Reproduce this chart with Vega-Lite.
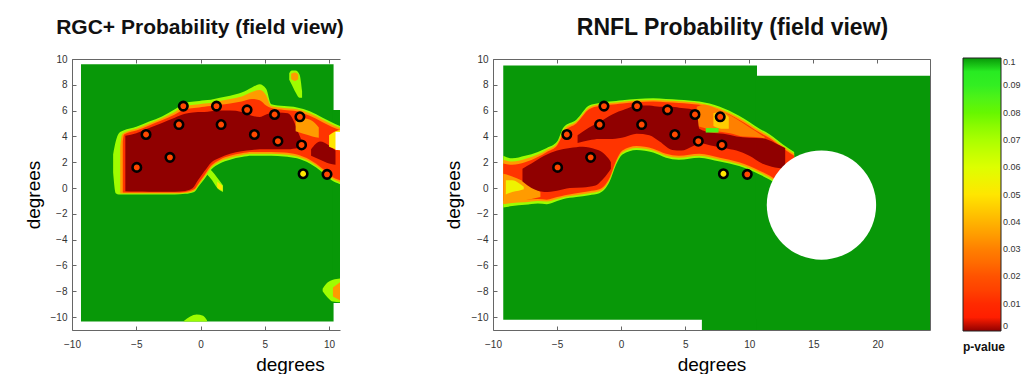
{
  "$schema": "https://vega.github.io/schema/vega-lite/v6.json",
  "background": "white",
  "padding": {"left": 24, "top": 17, "right": 0, "bottom": 0},
  "spacing": 100,
  "datasets": {
    "bg": [
      {"panel": "L", "x": -9.3, "x2": 10.35, "y": -10.35, "y2": 9.6, "p": 0.1},
      {"panel": "L", "x": 10.25, "x2": 10.85, "y": -8.9, "y2": 6.05, "p": 0.1},
      {"panel": "R", "x": -9.2, "x2": 10.6, "y": -10.2, "y2": 9.5, "p": 0.1},
      {"panel": "R", "x": 10.45, "x2": 24.1, "y": -11, "y2": 8.7, "p": 0.1},
      {"panel": "R", "x": 6.3, "x2": 10.6, "y": -11, "y2": -10.1, "p": 0.1}
    ],
    "mask": [
      {"panel": "L", "x": 10.5, "x2": 10.85, "y": 2.95, "y2": 4.35}
    ],
    "hole": [
      {"panel": "R", "x": 15.63, "y": -1.32}
    ],
    "pts": [
      {"x": -4.96, "y": 1.6, "p": 0.017},
      {"x": -4.24, "y": 4.15, "p": 0.017},
      {"x": -2.38, "y": 2.38, "p": 0.017},
      {"x": -1.68, "y": 4.92, "p": 0.017},
      {"x": -1.34, "y": 6.35, "p": 0.017},
      {"x": 1.24, "y": 6.35, "p": 0.017},
      {"x": 1.6, "y": 4.92, "p": 0.017},
      {"x": 3.62, "y": 6.06, "p": 0.017},
      {"x": 4.19, "y": 4.15, "p": 0.017},
      {"x": 5.76, "y": 5.7, "p": 0.017},
      {"x": 6.02, "y": 3.63, "p": 0.017},
      {"x": 7.73, "y": 5.52, "p": 0.017},
      {"x": 7.86, "y": 3.34, "p": 0.017},
      {"x": 7.98, "y": 1.11, "p": 0.05},
      {"x": 9.84, "y": 1.06, "p": 0.017}
    ],
    "blobs": [
      {"panel": "L", "lvl": "f", "s": "a", "p": 0.072, "x": -6.8, "y": 1.2, "y2": 2.6},
      {"panel": "L", "lvl": "f", "s": "a", "p": 0.072, "x": -6.6, "y": -0.4, "y2": 3.6},
      {"panel": "L", "lvl": "f", "s": "a", "p": 0.072, "x": -6.35, "y": -0.5, "y2": 4.25},
      {"panel": "L", "lvl": "f", "s": "a", "p": 0.072, "x": -6.0, "y": -0.5, "y2": 4.45},
      {"panel": "L", "lvl": "f", "s": "a", "p": 0.072, "x": -5.0, "y": -0.5, "y2": 4.75},
      {"panel": "L", "lvl": "f", "s": "a", "p": 0.072, "x": -4.0, "y": -0.5, "y2": 5.15},
      {"panel": "L", "lvl": "f", "s": "a", "p": 0.072, "x": -3.0, "y": -0.5, "y2": 5.55},
      {"panel": "L", "lvl": "f", "s": "a", "p": 0.072, "x": -2.0, "y": -0.5, "y2": 6.1},
      {"panel": "L", "lvl": "f", "s": "a", "p": 0.072, "x": -1.2, "y": -0.45, "y2": 6.6},
      {"panel": "L", "lvl": "f", "s": "a", "p": 0.072, "x": -0.5, "y": -0.3, "y2": 6.7},
      {"panel": "L", "lvl": "f", "s": "a", "p": 0.072, "x": -0.1, "y": 0.2, "y2": 6.75},
      {"panel": "L", "lvl": "f", "s": "a", "p": 0.072, "x": 0.3, "y": 0.7, "y2": 6.8},
      {"panel": "L", "lvl": "f", "s": "a", "p": 0.072, "x": 0.8, "y": 1.4, "y2": 6.85},
      {"panel": "L", "lvl": "f", "s": "a", "p": 0.072, "x": 1.5, "y": 1.9, "y2": 7.0},
      {"panel": "L", "lvl": "f", "s": "a", "p": 0.072, "x": 2.3, "y": 2.2, "y2": 7.15},
      {"panel": "L", "lvl": "f", "s": "a", "p": 0.072, "x": 3.2, "y": 2.4, "y2": 7.4},
      {"panel": "L", "lvl": "f", "s": "a", "p": 0.072, "x": 4.0, "y": 2.5, "y2": 7.8},
      {"panel": "L", "lvl": "f", "s": "a", "p": 0.072, "x": 4.6, "y": 2.5, "y2": 8.05},
      {"panel": "L", "lvl": "f", "s": "a", "p": 0.072, "x": 5.1, "y": 2.5, "y2": 7.7},
      {"panel": "L", "lvl": "f", "s": "a", "p": 0.072, "x": 5.5, "y": 2.5, "y2": 6.5},
      {"panel": "L", "lvl": "f", "s": "a", "p": 0.072, "x": 6.5, "y": 2.45, "y2": 6.35},
      {"panel": "L", "lvl": "f", "s": "a", "p": 0.072, "x": 7.5, "y": 2.3, "y2": 6.25},
      {"panel": "L", "lvl": "f", "s": "a", "p": 0.072, "x": 8.5, "y": 1.9, "y2": 5.95},
      {"panel": "L", "lvl": "f", "s": "a", "p": 0.072, "x": 9.5, "y": 1.2, "y2": 5.45},
      {"panel": "L", "lvl": "f", "s": "a", "p": 0.072, "x": 10.2, "y": 0.6, "y2": 5.1},
      {"panel": "L", "lvl": "f", "s": "a", "p": 0.072, "x": 10.85, "y": 0.3, "y2": 4.8},
      {"panel": "L", "lvl": "f", "s": "c", "p": 0.072, "x": 0.45, "y": 1.1, "y2": 1.7},
      {"panel": "L", "lvl": "f", "s": "c", "p": 0.072, "x": 0.9, "y": 0.6, "y2": 1.3},
      {"panel": "L", "lvl": "f", "s": "c", "p": 0.072, "x": 1.3, "y": 0.0, "y2": 0.8},
      {"panel": "L", "lvl": "f", "s": "c", "p": 0.072, "x": 1.75, "y": -0.3, "y2": 0.2},
      {"panel": "L", "lvl": "f", "s": "d", "p": 0.072, "x": 6.9, "y": 8.4, "y2": 8.9},
      {"panel": "L", "lvl": "f", "s": "d", "p": 0.072, "x": 7.1, "y": 8.0, "y2": 9.1},
      {"panel": "L", "lvl": "f", "s": "d", "p": 0.072, "x": 7.4, "y": 7.4, "y2": 9.1},
      {"panel": "L", "lvl": "f", "s": "d", "p": 0.072, "x": 7.7, "y": 7.0, "y2": 8.8},
      {"panel": "L", "lvl": "f", "s": "d", "p": 0.072, "x": 7.9, "y": 7.0, "y2": 7.5},
      {"panel": "L", "lvl": "f", "s": "e", "p": 0.072, "x": 9.5, "y": -8.0, "y2": -7.8},
      {"panel": "L", "lvl": "f", "s": "e", "p": 0.072, "x": 9.9, "y": -8.5, "y2": -7.3},
      {"panel": "L", "lvl": "f", "s": "e", "p": 0.072, "x": 10.3, "y": -8.8, "y2": -7.1},
      {"panel": "L", "lvl": "f", "s": "e", "p": 0.072, "x": 10.85, "y": -8.85, "y2": -7.0},
      {"panel": "L", "lvl": "f", "s": "g", "p": 0.072, "x": -1.3, "y": -10.35, "y2": -10.3},
      {"panel": "L", "lvl": "f", "s": "g", "p": 0.072, "x": -0.3, "y": -10.35, "y2": -9.8},
      {"panel": "L", "lvl": "f", "s": "g", "p": 0.072, "x": 0.2, "y": -10.35, "y2": -9.9},
      {"panel": "L", "lvl": "f", "s": "g", "p": 0.072, "x": 0.5, "y": -10.35, "y2": -10.25},

      {"panel": "L", "lvl": "o", "s": "a", "p": 0.035, "x": -6.25, "y": -0.4, "y2": 3.2},
      {"panel": "L", "lvl": "o", "s": "a", "p": 0.035, "x": -6.1, "y": -0.42, "y2": 4.15},
      {"panel": "L", "lvl": "o", "s": "a", "p": 0.035, "x": -5.9, "y": -0.42, "y2": 4.3},
      {"panel": "L", "lvl": "o", "s": "a", "p": 0.035, "x": -5.0, "y": -0.42, "y2": 4.6},
      {"panel": "L", "lvl": "o", "s": "a", "p": 0.035, "x": -4.0, "y": -0.42, "y2": 5.0},
      {"panel": "L", "lvl": "o", "s": "a", "p": 0.035, "x": -3.0, "y": -0.42, "y2": 5.4},
      {"panel": "L", "lvl": "o", "s": "a", "p": 0.035, "x": -2.0, "y": -0.42, "y2": 5.9},
      {"panel": "L", "lvl": "o", "s": "a", "p": 0.035, "x": -1.2, "y": -0.38, "y2": 6.35},
      {"panel": "L", "lvl": "o", "s": "a", "p": 0.035, "x": -0.5, "y": -0.2, "y2": 6.45},
      {"panel": "L", "lvl": "o", "s": "a", "p": 0.035, "x": -0.1, "y": 0.3, "y2": 6.5},
      {"panel": "L", "lvl": "o", "s": "a", "p": 0.035, "x": 0.3, "y": 0.85, "y2": 6.55},
      {"panel": "L", "lvl": "o", "s": "a", "p": 0.035, "x": 0.8, "y": 1.55, "y2": 6.6},
      {"panel": "L", "lvl": "o", "s": "a", "p": 0.035, "x": 1.5, "y": 2.05, "y2": 6.75},
      {"panel": "L", "lvl": "o", "s": "a", "p": 0.035, "x": 2.3, "y": 2.35, "y2": 6.9},
      {"panel": "L", "lvl": "o", "s": "a", "p": 0.035, "x": 3.2, "y": 2.55, "y2": 7.1},
      {"panel": "L", "lvl": "o", "s": "a", "p": 0.035, "x": 4.0, "y": 2.65, "y2": 7.45},
      {"panel": "L", "lvl": "o", "s": "a", "p": 0.035, "x": 4.6, "y": 2.65, "y2": 7.6},
      {"panel": "L", "lvl": "o", "s": "a", "p": 0.035, "x": 5.1, "y": 2.65, "y2": 7.2},
      {"panel": "L", "lvl": "o", "s": "a", "p": 0.035, "x": 5.5, "y": 2.65, "y2": 6.35},
      {"panel": "L", "lvl": "o", "s": "a", "p": 0.035, "x": 6.5, "y": 2.6, "y2": 6.2},
      {"panel": "L", "lvl": "o", "s": "a", "p": 0.035, "x": 7.5, "y": 2.45, "y2": 6.1},
      {"panel": "L", "lvl": "o", "s": "a", "p": 0.035, "x": 8.5, "y": 2.05, "y2": 5.8},
      {"panel": "L", "lvl": "o", "s": "a", "p": 0.035, "x": 9.5, "y": 1.35, "y2": 5.3},
      {"panel": "L", "lvl": "o", "s": "a", "p": 0.035, "x": 10.2, "y": 0.75, "y2": 4.95},
      {"panel": "L", "lvl": "o", "s": "a", "p": 0.035, "x": 10.85, "y": 0.45, "y2": 4.65},
      {"panel": "L", "lvl": "o", "s": "d", "p": 0.035, "x": 7.05, "y": 8.45, "y2": 8.85},
      {"panel": "L", "lvl": "o", "s": "d", "p": 0.035, "x": 7.35, "y": 8.3, "y2": 8.95},
      {"panel": "L", "lvl": "o", "s": "d", "p": 0.035, "x": 7.6, "y": 8.45, "y2": 8.8},
      {"panel": "L", "lvl": "o", "s": "e", "p": 0.035, "x": 10.3, "y": -8.4, "y2": -7.7},
      {"panel": "L", "lvl": "o", "s": "e", "p": 0.035, "x": 10.85, "y": -8.7, "y2": -7.3},

      {"panel": "L", "lvl": "r", "s": "a", "p": 0.012, "x": -6.05, "y": -0.33, "y2": 3.6},
      {"panel": "L", "lvl": "r", "s": "a", "p": 0.012, "x": -5.95, "y": -0.35, "y2": 4.15},
      {"panel": "L", "lvl": "r", "s": "a", "p": 0.012, "x": -5.0, "y": -0.35, "y2": 4.45},
      {"panel": "L", "lvl": "r", "s": "a", "p": 0.012, "x": -4.0, "y": -0.35, "y2": 4.85},
      {"panel": "L", "lvl": "r", "s": "a", "p": 0.012, "x": -3.0, "y": -0.35, "y2": 5.25},
      {"panel": "L", "lvl": "r", "s": "a", "p": 0.012, "x": -2.0, "y": -0.35, "y2": 5.7},
      {"panel": "L", "lvl": "r", "s": "a", "p": 0.012, "x": -1.2, "y": -0.3, "y2": 6.1},
      {"panel": "L", "lvl": "r", "s": "a", "p": 0.012, "x": -0.5, "y": -0.1, "y2": 6.2},
      {"panel": "L", "lvl": "r", "s": "a", "p": 0.012, "x": -0.1, "y": 0.45, "y2": 6.25},
      {"panel": "L", "lvl": "r", "s": "a", "p": 0.012, "x": 0.3, "y": 1.0, "y2": 6.3},
      {"panel": "L", "lvl": "r", "s": "a", "p": 0.012, "x": 0.8, "y": 1.7, "y2": 6.35},
      {"panel": "L", "lvl": "r", "s": "a", "p": 0.012, "x": 1.5, "y": 2.2, "y2": 6.45},
      {"panel": "L", "lvl": "r", "s": "a", "p": 0.012, "x": 2.3, "y": 2.5, "y2": 6.55},
      {"panel": "L", "lvl": "r", "s": "a", "p": 0.012, "x": 3.2, "y": 2.7, "y2": 6.7},
      {"panel": "L", "lvl": "r", "s": "a", "p": 0.012, "x": 4.0, "y": 2.8, "y2": 6.9},
      {"panel": "L", "lvl": "r", "s": "a", "p": 0.012, "x": 4.6, "y": 2.8, "y2": 6.8},
      {"panel": "L", "lvl": "r", "s": "a", "p": 0.012, "x": 5.1, "y": 2.8, "y2": 6.4},
      {"panel": "L", "lvl": "r", "s": "a", "p": 0.012, "x": 5.5, "y": 2.8, "y2": 6.2},
      {"panel": "L", "lvl": "r", "s": "a", "p": 0.012, "x": 6.5, "y": 2.75, "y2": 6.05},
      {"panel": "L", "lvl": "r", "s": "a", "p": 0.012, "x": 7.5, "y": 2.6, "y2": 5.95},
      {"panel": "L", "lvl": "r", "s": "a", "p": 0.012, "x": 8.5, "y": 2.2, "y2": 5.6},
      {"panel": "L", "lvl": "r", "s": "a", "p": 0.012, "x": 9.5, "y": 1.5, "y2": 5.1},
      {"panel": "L", "lvl": "r", "s": "a", "p": 0.012, "x": 10.2, "y": 0.9, "y2": 4.75},
      {"panel": "L", "lvl": "r", "s": "a", "p": 0.012, "x": 10.85, "y": 0.6, "y2": 4.5},

      {"panel": "L", "lvl": "d", "s": "a", "p": 0, "x": -5.85, "y": -0.25, "y2": 4.05},
      {"panel": "L", "lvl": "d", "s": "a", "p": 0, "x": -5.0, "y": -0.27, "y2": 4.25},
      {"panel": "L", "lvl": "d", "s": "a", "p": 0, "x": -4.0, "y": -0.28, "y2": 4.65},
      {"panel": "L", "lvl": "d", "s": "a", "p": 0, "x": -3.0, "y": -0.28, "y2": 5.05},
      {"panel": "L", "lvl": "d", "s": "a", "p": 0, "x": -2.0, "y": -0.28, "y2": 5.45},
      {"panel": "L", "lvl": "d", "s": "a", "p": 0, "x": -1.2, "y": -0.22, "y2": 5.75},
      {"panel": "L", "lvl": "d", "s": "a", "p": 0, "x": -0.6, "y": 0.0, "y2": 5.85},
      {"panel": "L", "lvl": "d", "s": "a", "p": 0, "x": -0.2, "y": 0.6, "y2": 5.9},
      {"panel": "L", "lvl": "d", "s": "a", "p": 0, "x": 0.3, "y": 1.3, "y2": 5.9},
      {"panel": "L", "lvl": "d", "s": "a", "p": 0, "x": 0.8, "y": 1.95, "y2": 5.95},
      {"panel": "L", "lvl": "d", "s": "a", "p": 0, "x": 1.5, "y": 2.35, "y2": 6.0},
      {"panel": "L", "lvl": "d", "s": "a", "p": 0, "x": 2.3, "y": 2.65, "y2": 6.0},
      {"panel": "L", "lvl": "d", "s": "a", "p": 0, "x": 3.2, "y": 2.85, "y2": 5.9},
      {"panel": "L", "lvl": "d", "s": "a", "p": 0, "x": 4.0, "y": 2.95, "y2": 5.6},
      {"panel": "L", "lvl": "d", "s": "a", "p": 0, "x": 4.6, "y": 3.0, "y2": 5.5},
      {"panel": "L", "lvl": "d", "s": "a", "p": 0, "x": 5.1, "y": 3.0, "y2": 5.7},
      {"panel": "L", "lvl": "d", "s": "a", "p": 0, "x": 6.0, "y": 3.0, "y2": 5.85},
      {"panel": "L", "lvl": "d", "s": "a", "p": 0, "x": 6.8, "y": 3.0, "y2": 5.8},
      {"panel": "L", "lvl": "d", "s": "a", "p": 0, "x": 7.2, "y": 3.05, "y2": 5.3},
      {"panel": "L", "lvl": "d", "s": "a", "p": 0, "x": 7.6, "y": 3.1, "y2": 4.3},
      {"panel": "L", "lvl": "d", "s": "a", "p": 0, "x": 7.9, "y": 3.2, "y2": 3.6},
      {"panel": "L", "lvl": "d", "s": "b", "p": 0, "x": 8.6, "y": 2.5, "y2": 3.0},
      {"panel": "L", "lvl": "d", "s": "b", "p": 0, "x": 9.3, "y": 2.2, "y2": 3.6},
      {"panel": "L", "lvl": "d", "s": "b", "p": 0, "x": 10.0, "y": 1.9, "y2": 3.3},
      {"panel": "L", "lvl": "d", "s": "b", "p": 0, "x": 10.5, "y": 1.8, "y2": 2.9},

      {"panel": "L", "lvl": "q", "s": "h", "p": 0.035, "x": 7.4, "y": 4.4, "y2": 5.3},
      {"panel": "L", "lvl": "q", "s": "h", "p": 0.035, "x": 8.0, "y": 4.2, "y2": 5.4},
      {"panel": "L", "lvl": "q", "s": "h", "p": 0.035, "x": 8.7, "y": 4.0, "y2": 5.2},
      {"panel": "L", "lvl": "q", "s": "h", "p": 0.035, "x": 9.2, "y": 3.9, "y2": 4.7},
      {"panel": "L", "lvl": "q", "s": "i", "p": 0.05, "x": 10.0, "y": 3.2, "y2": 4.1},
      {"panel": "L", "lvl": "q", "s": "i", "p": 0.05, "x": 10.5, "y": 3.0, "y2": 4.4},
      {"panel": "L", "lvl": "q", "s": "i", "p": 0.05, "x": 10.85, "y": 2.9, "y2": 4.5},
      {"panel": "L", "lvl": "q", "s": "j", "p": 0.05, "x": 1.3, "y": 0.0, "y2": 0.5},
      {"panel": "L", "lvl": "q", "s": "j", "p": 0.05, "x": 1.7, "y": -0.2, "y2": 0.15},

      {"panel": "R", "lvl": "f", "s": "a", "p": 0.072, "x": -9.2, "y": -1.5, "y2": 2.5},
      {"panel": "R", "lvl": "f", "s": "a", "p": 0.072, "x": -8.5, "y": -1.4, "y2": 2.3},
      {"panel": "R", "lvl": "f", "s": "a", "p": 0.072, "x": -7.5, "y": -1.3, "y2": 2.5},
      {"panel": "R", "lvl": "f", "s": "a", "p": 0.072, "x": -6.5, "y": -1.2, "y2": 2.8},
      {"panel": "R", "lvl": "f", "s": "a", "p": 0.072, "x": -5.8, "y": -1.25, "y2": 3.1},
      {"panel": "R", "lvl": "f", "s": "a", "p": 0.072, "x": -5.0, "y": -1.0, "y2": 3.6},
      {"panel": "R", "lvl": "f", "s": "a", "p": 0.072, "x": -4.5, "y": -0.85, "y2": 4.7},
      {"panel": "R", "lvl": "f", "s": "a", "p": 0.072, "x": -3.5, "y": -0.7, "y2": 5.3},
      {"panel": "R", "lvl": "f", "s": "a", "p": 0.072, "x": -2.5, "y": -0.55, "y2": 6.4},
      {"panel": "R", "lvl": "f", "s": "a", "p": 0.072, "x": -1.7, "y": -0.4, "y2": 6.6},
      {"panel": "R", "lvl": "f", "s": "a", "p": 0.072, "x": -0.9, "y": 0.5, "y2": 6.7},
      {"panel": "R", "lvl": "f", "s": "a", "p": 0.072, "x": -0.4, "y": 1.8, "y2": 6.75},
      {"panel": "R", "lvl": "f", "s": "a", "p": 0.072, "x": 0.1, "y": 2.6, "y2": 6.8},
      {"panel": "R", "lvl": "f", "s": "a", "p": 0.072, "x": 1.2, "y": 2.95, "y2": 6.9},
      {"panel": "R", "lvl": "f", "s": "a", "p": 0.072, "x": 2.5, "y": 2.75, "y2": 6.95},
      {"panel": "R", "lvl": "f", "s": "a", "p": 0.072, "x": 3.5, "y": 2.35, "y2": 6.9},
      {"panel": "R", "lvl": "f", "s": "a", "p": 0.072, "x": 4.5, "y": 2.2, "y2": 6.85},
      {"panel": "R", "lvl": "f", "s": "a", "p": 0.072, "x": 6.1, "y": 2.35, "y2": 6.7},
      {"panel": "R", "lvl": "f", "s": "a", "p": 0.072, "x": 7.7, "y": 2.05, "y2": 6.3},
      {"panel": "R", "lvl": "f", "s": "a", "p": 0.072, "x": 9.2, "y": 1.7, "y2": 5.6},
      {"panel": "R", "lvl": "f", "s": "a", "p": 0.072, "x": 10.8, "y": 1.05, "y2": 4.6},
      {"panel": "R", "lvl": "f", "s": "a", "p": 0.072, "x": 11.6, "y": 0.65, "y2": 4.15},
      {"panel": "R", "lvl": "f", "s": "a", "p": 0.072, "x": 12.6, "y": 0.0, "y2": 3.4},
      {"panel": "R", "lvl": "f", "s": "a", "p": 0.072, "x": 13.5, "y": -0.5, "y2": 2.8},

      {"panel": "R", "lvl": "o", "s": "a", "p": 0.035, "x": -9.2, "y": -1.25, "y2": 2.2},
      {"panel": "R", "lvl": "o", "s": "a", "p": 0.035, "x": -8.5, "y": -1.15, "y2": 2.05},
      {"panel": "R", "lvl": "o", "s": "a", "p": 0.035, "x": -7.5, "y": -1.1, "y2": 2.25},
      {"panel": "R", "lvl": "o", "s": "a", "p": 0.035, "x": -6.5, "y": -1.0, "y2": 2.6},
      {"panel": "R", "lvl": "o", "s": "a", "p": 0.035, "x": -5.8, "y": -1.05, "y2": 2.95},
      {"panel": "R", "lvl": "o", "s": "a", "p": 0.035, "x": -5.0, "y": -0.85, "y2": 3.45},
      {"panel": "R", "lvl": "o", "s": "a", "p": 0.035, "x": -4.45, "y": -0.7, "y2": 4.55},
      {"panel": "R", "lvl": "o", "s": "a", "p": 0.035, "x": -3.5, "y": -0.55, "y2": 5.15},
      {"panel": "R", "lvl": "o", "s": "a", "p": 0.035, "x": -2.5, "y": -0.4, "y2": 6.25},
      {"panel": "R", "lvl": "o", "s": "a", "p": 0.035, "x": -1.7, "y": -0.25, "y2": 6.5},
      {"panel": "R", "lvl": "o", "s": "a", "p": 0.035, "x": -0.9, "y": 0.65, "y2": 6.6},
      {"panel": "R", "lvl": "o", "s": "a", "p": 0.035, "x": -0.4, "y": 1.95, "y2": 6.62},
      {"panel": "R", "lvl": "o", "s": "a", "p": 0.035, "x": 0.1, "y": 2.75, "y2": 6.68},
      {"panel": "R", "lvl": "o", "s": "a", "p": 0.035, "x": 1.2, "y": 3.1, "y2": 6.78},
      {"panel": "R", "lvl": "o", "s": "a", "p": 0.035, "x": 2.5, "y": 2.9, "y2": 6.82},
      {"panel": "R", "lvl": "o", "s": "a", "p": 0.035, "x": 3.5, "y": 2.5, "y2": 6.78},
      {"panel": "R", "lvl": "o", "s": "a", "p": 0.035, "x": 4.5, "y": 2.35, "y2": 6.72},
      {"panel": "R", "lvl": "o", "s": "a", "p": 0.035, "x": 6.1, "y": 2.5, "y2": 6.58},
      {"panel": "R", "lvl": "o", "s": "a", "p": 0.035, "x": 7.7, "y": 2.2, "y2": 6.15},
      {"panel": "R", "lvl": "o", "s": "a", "p": 0.035, "x": 9.2, "y": 1.85, "y2": 5.45},
      {"panel": "R", "lvl": "o", "s": "a", "p": 0.035, "x": 10.8, "y": 1.2, "y2": 4.45},
      {"panel": "R", "lvl": "o", "s": "a", "p": 0.035, "x": 11.6, "y": 0.8, "y2": 4.0},
      {"panel": "R", "lvl": "o", "s": "a", "p": 0.035, "x": 12.6, "y": 0.15, "y2": 3.25},
      {"panel": "R", "lvl": "o", "s": "a", "p": 0.035, "x": 13.5, "y": -0.4, "y2": 2.65},

      {"panel": "R", "lvl": "r", "s": "a", "p": 0.012, "x": -9.2, "y": -1.0, "y2": 1.9},
      {"panel": "R", "lvl": "r", "s": "a", "p": 0.012, "x": -8.5, "y": -0.9, "y2": 1.8},
      {"panel": "R", "lvl": "r", "s": "a", "p": 0.012, "x": -7.5, "y": -0.9, "y2": 2.0},
      {"panel": "R", "lvl": "r", "s": "a", "p": 0.012, "x": -6.5, "y": -0.85, "y2": 2.4},
      {"panel": "R", "lvl": "r", "s": "a", "p": 0.012, "x": -5.8, "y": -0.9, "y2": 2.8},
      {"panel": "R", "lvl": "r", "s": "a", "p": 0.012, "x": -5.0, "y": -0.7, "y2": 3.3},
      {"panel": "R", "lvl": "r", "s": "a", "p": 0.012, "x": -4.4, "y": -0.55, "y2": 4.4},
      {"panel": "R", "lvl": "r", "s": "a", "p": 0.012, "x": -3.5, "y": -0.4, "y2": 5.0},
      {"panel": "R", "lvl": "r", "s": "a", "p": 0.012, "x": -2.5, "y": -0.25, "y2": 6.1},
      {"panel": "R", "lvl": "r", "s": "a", "p": 0.012, "x": -1.7, "y": -0.1, "y2": 6.35},
      {"panel": "R", "lvl": "r", "s": "a", "p": 0.012, "x": -0.9, "y": 0.8, "y2": 6.45},
      {"panel": "R", "lvl": "r", "s": "a", "p": 0.012, "x": -0.4, "y": 2.1, "y2": 6.5},
      {"panel": "R", "lvl": "r", "s": "a", "p": 0.012, "x": 0.1, "y": 2.9, "y2": 6.55},
      {"panel": "R", "lvl": "r", "s": "a", "p": 0.012, "x": 1.2, "y": 3.25, "y2": 6.65},
      {"panel": "R", "lvl": "r", "s": "a", "p": 0.012, "x": 2.5, "y": 3.05, "y2": 6.7},
      {"panel": "R", "lvl": "r", "s": "a", "p": 0.012, "x": 3.5, "y": 2.65, "y2": 6.65},
      {"panel": "R", "lvl": "r", "s": "a", "p": 0.012, "x": 4.5, "y": 2.5, "y2": 6.6},
      {"panel": "R", "lvl": "r", "s": "a", "p": 0.012, "x": 6.1, "y": 2.65, "y2": 6.45},
      {"panel": "R", "lvl": "r", "s": "a", "p": 0.012, "x": 7.7, "y": 2.35, "y2": 6.0},
      {"panel": "R", "lvl": "r", "s": "a", "p": 0.012, "x": 9.2, "y": 2.0, "y2": 5.3},
      {"panel": "R", "lvl": "r", "s": "a", "p": 0.012, "x": 10.8, "y": 1.35, "y2": 4.3},
      {"panel": "R", "lvl": "r", "s": "a", "p": 0.012, "x": 11.6, "y": 0.95, "y2": 3.85},
      {"panel": "R", "lvl": "r", "s": "a", "p": 0.012, "x": 12.6, "y": 0.3, "y2": 3.1},
      {"panel": "R", "lvl": "r", "s": "a", "p": 0.012, "x": 13.5, "y": -0.3, "y2": 2.5},

      {"panel": "R", "lvl": "d", "s": "a", "p": 0, "x": -7.7, "y": 0.5, "y2": 1.5},
      {"panel": "R", "lvl": "d", "s": "a", "p": 0, "x": -7.0, "y": 0.0, "y2": 1.9},
      {"panel": "R", "lvl": "d", "s": "a", "p": 0, "x": -6.0, "y": -0.3, "y2": 2.5},
      {"panel": "R", "lvl": "d", "s": "a", "p": 0, "x": -5.0, "y": -0.2, "y2": 2.9},
      {"panel": "R", "lvl": "d", "s": "a", "p": 0, "x": -4.0, "y": 0.0, "y2": 3.1},
      {"panel": "R", "lvl": "d", "s": "a", "p": 0, "x": -3.0, "y": 0.05, "y2": 3.2},
      {"panel": "R", "lvl": "d", "s": "a", "p": 0, "x": -2.0, "y": 0.2, "y2": 3.0},
      {"panel": "R", "lvl": "d", "s": "a", "p": 0, "x": -1.5, "y": 0.6, "y2": 2.8},
      {"panel": "R", "lvl": "d", "s": "a", "p": 0, "x": -1.0, "y": 1.2, "y2": 2.3},
      {"panel": "R", "lvl": "d", "s": "a", "p": 0, "x": -0.8, "y": 1.5, "y2": 2.0},
      {"panel": "R", "lvl": "d", "s": "b", "p": 0, "x": -3.4, "y": 3.5, "y2": 4.1},
      {"panel": "R", "lvl": "d", "s": "b", "p": 0, "x": -2.5, "y": 3.7, "y2": 4.7},
      {"panel": "R", "lvl": "d", "s": "b", "p": 0, "x": -1.7, "y": 3.8, "y2": 5.1},
      {"panel": "R", "lvl": "d", "s": "b", "p": 0, "x": -0.7, "y": 3.8, "y2": 5.7},
      {"panel": "R", "lvl": "d", "s": "b", "p": 0, "x": 0.3, "y": 3.95, "y2": 6.1},
      {"panel": "R", "lvl": "d", "s": "b", "p": 0, "x": 1.2, "y": 4.2, "y2": 6.4},
      {"panel": "R", "lvl": "d", "s": "b", "p": 0, "x": 2.2, "y": 4.1, "y2": 6.4},
      {"panel": "R", "lvl": "d", "s": "b", "p": 0, "x": 3.0, "y": 3.6, "y2": 6.3},
      {"panel": "R", "lvl": "d", "s": "b", "p": 0, "x": 4.0, "y": 2.95, "y2": 6.3},
      {"panel": "R", "lvl": "d", "s": "b", "p": 0, "x": 4.7, "y": 2.9, "y2": 6.2},
      {"panel": "R", "lvl": "d", "s": "b", "p": 0, "x": 5.5, "y": 3.2, "y2": 6.1},
      {"panel": "R", "lvl": "d", "s": "b", "p": 0, "x": 5.9, "y": 3.4, "y2": 5.9},
      {"panel": "R", "lvl": "d", "s": "b", "p": 0, "x": 6.1, "y": 3.5, "y2": 4.6},
      {"panel": "R", "lvl": "d", "s": "b", "p": 0, "x": 7.0, "y": 3.3, "y2": 4.3},
      {"panel": "R", "lvl": "d", "s": "b", "p": 0, "x": 8.0, "y": 3.1, "y2": 4.2},
      {"panel": "R", "lvl": "d", "s": "b", "p": 0, "x": 9.0, "y": 2.9, "y2": 4.0},
      {"panel": "R", "lvl": "d", "s": "b", "p": 0, "x": 10.0, "y": 2.5, "y2": 3.9},
      {"panel": "R", "lvl": "d", "s": "b", "p": 0, "x": 11.0, "y": 1.9, "y2": 3.85},
      {"panel": "R", "lvl": "d", "s": "b", "p": 0, "x": 12.0, "y": 1.6, "y2": 3.5},
      {"panel": "R", "lvl": "d", "s": "b", "p": 0, "x": 12.8, "y": 1.5, "y2": 3.1},

      {"panel": "R", "lvl": "q", "s": "c", "p": 0.035, "x": -9.2, "y": -1.2, "y2": 1.1},
      {"panel": "R", "lvl": "q", "s": "c", "p": 0.035, "x": -8.5, "y": -1.1, "y2": 0.9},
      {"panel": "R", "lvl": "q", "s": "c", "p": 0.035, "x": -7.8, "y": -1.0, "y2": 0.6},
      {"panel": "R", "lvl": "q", "s": "c", "p": 0.035, "x": -7.0, "y": -0.85, "y2": 0.1},
      {"panel": "R", "lvl": "q", "s": "c", "p": 0.035, "x": -6.3, "y": -0.7, "y2": -0.3},
      {"panel": "R", "lvl": "q", "s": "e", "p": 0.03, "x": 5.9, "y": 4.8, "y2": 6.3},
      {"panel": "R", "lvl": "q", "s": "e", "p": 0.03, "x": 6.5, "y": 4.65, "y2": 6.45},
      {"panel": "R", "lvl": "q", "s": "e", "p": 0.03, "x": 7.5, "y": 4.4, "y2": 6.1},
      {"panel": "R", "lvl": "q", "s": "e", "p": 0.03, "x": 8.5, "y": 4.25, "y2": 5.65},
      {"panel": "R", "lvl": "q", "s": "e", "p": 0.03, "x": 9.5, "y": 4.0, "y2": 5.05},
      {"panel": "R", "lvl": "q", "s": "e", "p": 0.03, "x": 10.5, "y": 3.95, "y2": 4.4},
      {"panel": "R", "lvl": "q", "s": "e", "p": 0.03, "x": 11.2, "y": 3.85, "y2": 3.95},
      {"panel": "R", "lvl": "q2", "s": "c2", "p": 0.055, "x": -9.0, "y": -0.5, "y2": 0.6},
      {"panel": "R", "lvl": "q2", "s": "c2", "p": 0.055, "x": -8.5, "y": -0.3, "y2": 0.6},
      {"panel": "R", "lvl": "q2", "s": "c2", "p": 0.055, "x": -8.0, "y": -0.2, "y2": 0.4},
      {"panel": "R", "lvl": "q2", "s": "c2", "p": 0.055, "x": -7.6, "y": -0.1, "y2": 0.1},
      {"panel": "R", "lvl": "q2", "s": "f", "p": 0.045, "x": 7.2, "y": 4.8, "y2": 5.8},
      {"panel": "R", "lvl": "q2", "s": "f", "p": 0.045, "x": 7.8, "y": 4.6, "y2": 5.9},
      {"panel": "R", "lvl": "q2", "s": "f", "p": 0.045, "x": 8.4, "y": 4.6, "y2": 5.5},
      {"panel": "R", "lvl": "q2", "s": "g", "p": 0.085, "x": 6.6, "y": 4.3, "y2": 4.65},
      {"panel": "R", "lvl": "q2", "s": "g", "p": 0.085, "x": 7.6, "y": 4.3, "y2": 4.65}
    ]
  },
  "hconcat": [
    {
      "width": 268,
      "height": 271,
      "title": {"text": "RGC+ Probability (field view)", "font": "Liberation Sans", "fontSize": 21, "fontWeight": "bold", "color": "#111", "anchor": "middle", "frame": "group", "dx": -6, "offset": 16},
      "resolve": {"axis": {"x": "independent", "y": "independent"}},
      "layer": [
        {
          "encoding": {
            "x": {"field": "x", "type": "quantitative", "scale": {"domain": [-10, 10.85], "nice": false, "zero": false}, "axis": {"title": "degrees", "values": [-10, -5, 0, 5, 10], "titleX": 218, "labelPadding": 13, "titlePadding": 6}},
            "y": {"field": "y", "type": "quantitative", "scale": {"domain": [-11, 10], "nice": false, "zero": false}, "axis": {"title": "degrees", "values": [-10, -8, -6, -4, -2, 0, 2, 4, 6, 8, 10], "labelPadding": 9, "titlePadding": 7}}
          },
          "layer": [
            {"data": {"name": "bg"}, "transform": [{"filter": "datum.panel == 'L'"}], "mark": {"type": "rect", "clip": true},
             "encoding": {"x2": {"field": "x2"}, "y2": {"field": "y2"},
               "color": {"field": "p", "type": "quantitative", "title": "p-value", "legend": {"values": [0, 0.01, 0.02, 0.03, 0.04, 0.05, 0.06, 0.07, 0.08, 0.09, 0.1], "format": "~g"}, "scale": {"domain": [0, 0.0018, 0.002, 0.01, 0.02, 0.03, 0.04, 0.05, 0.06, 0.07, 0.08, 0.09, 0.0975, 0.098, 0.1], "range": ["#900000", "#900000", "#ff1400", "#ff2a00", "#ff5200", "#ff8000", "#ffb400", "#ffe600", "#ddff00", "#aaff00", "#66f700", "#33ee22", "#22ea22", "#089808", "#089808"]}}}},
            {"data": {"name": "blobs"}, "transform": [{"filter": "datum.panel == 'L' && datum.lvl == 'f'"}], "mark": {"type": "area", "clip": true, "interpolate": "monotone"},
             "encoding": {"y2": {"field": "y2"}, "detail": {"field": "s"}, "color": {"field": "p", "type": "quantitative", "title": "p-value"}}},
            {"data": {"name": "blobs"}, "transform": [{"filter": "datum.panel == 'L' && datum.lvl == 'o'"}], "mark": {"type": "area", "clip": true, "interpolate": "monotone"},
             "encoding": {"y2": {"field": "y2"}, "detail": {"field": "s"}, "color": {"field": "p", "type": "quantitative", "title": "p-value"}}},
            {"data": {"name": "blobs"}, "transform": [{"filter": "datum.panel == 'L' && datum.lvl == 'r'"}], "mark": {"type": "area", "clip": true, "interpolate": "monotone"},
             "encoding": {"y2": {"field": "y2"}, "detail": {"field": "s"}, "color": {"field": "p", "type": "quantitative", "title": "p-value"}}},
            {"data": {"name": "blobs"}, "transform": [{"filter": "datum.panel == 'L' && datum.lvl == 'd'"}], "mark": {"type": "area", "clip": true, "interpolate": "monotone"},
             "encoding": {"y2": {"field": "y2"}, "detail": {"field": "s"}, "color": {"field": "p", "type": "quantitative", "title": "p-value"}}},
            {"data": {"name": "blobs"}, "transform": [{"filter": "datum.panel == 'L' && datum.lvl == 'q'"}], "mark": {"type": "area", "clip": true, "interpolate": "monotone"},
             "encoding": {"y2": {"field": "y2"}, "detail": {"field": "s"}, "color": {"field": "p", "type": "quantitative", "title": "p-value"}}},
            {"data": {"name": "mask"}, "transform": [{"filter": "datum.panel == 'L'"}], "mark": {"type": "rect", "clip": true, "color": "white"},
             "encoding": {"x2": {"field": "x2"}, "y2": {"field": "y2"}}},
            {"data": {"name": "pts"}, "mark": {"type": "point", "filled": true, "opacity": 1, "stroke": "black", "strokeWidth": 2.6, "size": 72},
             "encoding": {"color": {"field": "p", "type": "quantitative", "title": "p-value"}}}
          ]
        },
        {
          "data": {"name": "pts"},
          "mark": {"type": "point", "opacity": 0},
          "encoding": {
            "x": {"field": "x", "type": "quantitative", "scale": {"domain": [-10, 10.85], "nice": false, "zero": false}, "axis": {"orient": "top", "title": null, "labels": false, "values": [-10, -5, 0, 5, 10]}},
            "y": {"field": "y", "type": "quantitative", "scale": {"domain": [-11, 10], "nice": false, "zero": false}, "axis": null}
          }
        }
      ]
    },
    {
      "width": 437,
      "height": 271,
      "title": {"text": "RNFL Probability (field view)", "font": "Liberation Sans", "fontSize": 23, "fontWeight": "bold", "color": "#111", "anchor": "middle", "frame": "group", "dx": 21, "offset": 14},
      "resolve": {"axis": {"x": "independent", "y": "independent"}},
      "layer": [
        {
          "encoding": {
            "x": {"field": "x", "type": "quantitative", "scale": {"domain": [-10, 24.1], "nice": false, "zero": false}, "axis": {"title": "degrees", "values": [-10, -5, 0, 5, 10, 15, 20], "labelPadding": 13, "titlePadding": 6}},
            "y": {"field": "y", "type": "quantitative", "scale": {"domain": [-11, 10], "nice": false, "zero": false}, "axis": {"title": "degrees", "values": [-10, -8, -6, -4, -2, 0, 2, 4, 6, 8, 10], "labelPadding": 9, "titlePadding": 8}}
          },
          "layer": [
            {"data": {"name": "bg"}, "transform": [{"filter": "datum.panel == 'R'"}], "mark": {"type": "rect", "clip": true},
             "encoding": {"x2": {"field": "x2"}, "y2": {"field": "y2"}, "color": {"field": "p", "type": "quantitative", "title": "p-value", "legend": {"values": [0, 0.01, 0.02, 0.03, 0.04, 0.05, 0.06, 0.07, 0.08, 0.09, 0.1], "format": "~g"}}}},
            {"data": {"name": "blobs"}, "transform": [{"filter": "datum.panel == 'R' && datum.lvl == 'f'"}], "mark": {"type": "area", "clip": true, "interpolate": "monotone"},
             "encoding": {"y2": {"field": "y2"}, "detail": {"field": "s"}, "color": {"field": "p", "type": "quantitative", "title": "p-value"}}},
            {"data": {"name": "blobs"}, "transform": [{"filter": "datum.panel == 'R' && datum.lvl == 'o'"}], "mark": {"type": "area", "clip": true, "interpolate": "monotone"},
             "encoding": {"y2": {"field": "y2"}, "detail": {"field": "s"}, "color": {"field": "p", "type": "quantitative", "title": "p-value"}}},
            {"data": {"name": "blobs"}, "transform": [{"filter": "datum.panel == 'R' && datum.lvl == 'r'"}], "mark": {"type": "area", "clip": true, "interpolate": "monotone"},
             "encoding": {"y2": {"field": "y2"}, "detail": {"field": "s"}, "color": {"field": "p", "type": "quantitative", "title": "p-value"}}},
            {"data": {"name": "blobs"}, "transform": [{"filter": "datum.panel == 'R' && datum.lvl == 'q'"}], "mark": {"type": "area", "clip": true, "interpolate": "monotone"},
             "encoding": {"y2": {"field": "y2"}, "detail": {"field": "s"}, "color": {"field": "p", "type": "quantitative", "title": "p-value"}}},
            {"data": {"name": "blobs"}, "transform": [{"filter": "datum.panel == 'R' && datum.lvl == 'd'"}], "mark": {"type": "area", "clip": true, "interpolate": "monotone"},
             "encoding": {"y2": {"field": "y2"}, "detail": {"field": "s"}, "color": {"field": "p", "type": "quantitative", "title": "p-value"}}},
            {"data": {"name": "blobs"}, "transform": [{"filter": "datum.panel == 'R' && datum.lvl == 'q2'"}], "mark": {"type": "area", "clip": true, "interpolate": "monotone"},
             "encoding": {"y2": {"field": "y2"}, "detail": {"field": "s"}, "color": {"field": "p", "type": "quantitative", "title": "p-value"}}},
            {"data": {"name": "hole"}, "mark": {"type": "point", "filled": true, "shape": "circle", "color": "white", "opacity": 1, "size": 11960, "clip": true},
             "encoding": {}},
            {"data": {"name": "pts"}, "mark": {"type": "point", "filled": true, "opacity": 1, "stroke": "black", "strokeWidth": 2.6, "size": 72},
             "encoding": {"color": {"field": "p", "type": "quantitative", "title": "p-value"}}}
          ]
        },
        {
          "data": {"name": "pts"},
          "mark": {"type": "point", "opacity": 0},
          "encoding": {
            "x": {"field": "x", "type": "quantitative", "scale": {"domain": [-10, 24.1], "nice": false, "zero": false}, "axis": {"orient": "top", "title": null, "labels": false, "values": [-10, -5, 0, 5, 10, 15, 20]}},
            "y": {"field": "y", "type": "quantitative", "scale": {"domain": [-11, 10], "nice": false, "zero": false}, "axis": {"orient": "right", "title": null, "labels": false, "values": [-10, -8, -6, -4, -2, 0, 2, 4, 6, 8, 10]}}
          }
        }
      ]
    }
  ],
  "config": {
    "view": {"stroke": null},
    "axis": {"labelFont": "Liberation Sans", "labelFontSize": 10, "labelColor": "#333", "labelFlush": false, "titleFont": "Liberation Sans", "titleFontSize": 19, "titleFontWeight": "normal", "titleColor": "#000", "grid": false, "domainColor": "#666", "tickColor": "#666", "tickSize": -4, "labelPadding": 5},
    "legend": {"orient": "none", "legendX": 891, "legendY": -1, "direction": "vertical", "gradientLength": 273, "gradientThickness": 38, "gradientStrokeColor": "#222", "gradientStrokeWidth": 1, "labelFont": "Liberation Sans", "labelFontSize": 9, "labelColor": "#333", "labelOffset": 5, "labelOverlap": false, "titleOrient": "bottom", "titleFont": "Liberation Sans", "titleFontSize": 12, "titleFontWeight": "bold", "titleColor": "#111", "titlePadding": 10}
  }
}
